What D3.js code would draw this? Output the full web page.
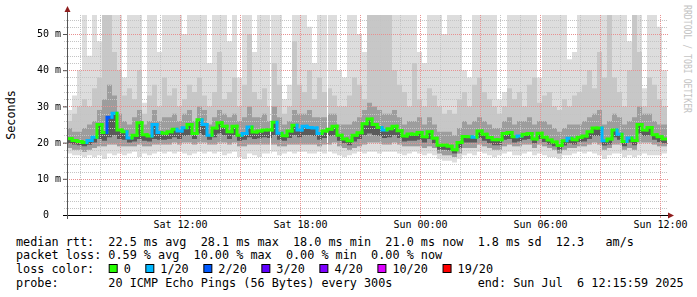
<!DOCTYPE html>
<html>
<head>
<meta charset="utf-8">
<script src="https://cdn.jsdelivr.net/npm/d3@7"></script>
<style>
  body { margin: 0; background: #fff; }
  svg text { font-family: "DejaVu Sans Mono", monospace; white-space: pre; }
  .lbl { position: absolute; left: 0; top: 0; will-change: transform; }
</style>
</head>
<body>
<svg id="chart" style="position:absolute;left:0;top:0"></svg>
<script>
// Data (one value per 15 min step)
const startTime = new Date(2025, 6, 5, 6, 21, 0);
const endTime = new Date(2025, 6, 6, 12, 21, 0);
const stepMinutes = 15;

const median = [
  21.1, 20.6, 20.3, 20.0, 20.6, 21.5, 25.0, 22.8, 27.0, 28.1,
  23.5, 23.0, 21.3, 22.0, 25.5, 22.2, 21.8, 25.0, 22.8, 22.6,
  23.0, 23.7, 23.2, 24.1, 25.0, 22.5, 26.3, 25.0, 22.0, 24.0,
  25.5, 24.5, 23.0, 24.5, 22.0, 22.5, 24.3, 22.9, 23.2, 23.5,
  23.5, 25.6, 22.6, 21.9, 23.2, 24.8, 23.5, 24.5, 24.2, 24.0,
  22.5, 23.2, 23.7, 24.5, 22.0, 21.0, 20.5, 22.0, 22.7, 25.2,
  26.5, 25.0, 24.2, 23.5, 23.8, 24.5, 23.3, 21.8, 22.4, 22.3,
  22.8, 21.6, 23.0, 21.2, 19.3, 19.3, 19.0, 18.0, 20.0, 21.7,
  21.6, 21.5, 23.2, 22.3, 21.4, 20.8, 20.8, 22.5, 22.8, 21.6,
  21.8, 22.3, 22.5, 21.0, 22.6, 21.5, 20.7, 20.2, 19.2, 20.5,
  21.2, 20.8, 21.5, 21.8, 23.0, 24.0, 24.0, 20.5, 21.0, 23.5,
  22.3, 20.3, 21.3, 20.6, 25.0, 23.5, 24.2, 22.2, 21.6, 21.0
];

// lost pings out of 20
const loss = [
  0, 0, 0, 0, 1, 1, 0, 0, 2, 1,
  0, 0, 1, 0, 0, 0, 0, 1, 1, 0,
  0, 0, 1, 1, 0, 0, 0, 1, 1, 0,
  0, 0, 0, 0, 0, 1, 1, 0, 0, 0,
  0, 0, 1, 0, 0, 0, 1, 1, 1, 1,
  1, 0, 0, 0, 0, 0, 0, 0, 0, 0,
  0, 0, 0, 1, 0, 0, 0, 0, 0, 0,
  0, 0, 0, 0, 0, 0, 0, 0, 0, 0,
  0, 1, 0, 0, 0, 0, 0, 0, 0, 0,
  1, 0, 0, 0, 0, 0, 0, 0, 0, 0,
  1, 0, 0, 0, 0, 0, 0, 1, 0, 0,
  1, 0, 1, 0, 0, 0, 0, 0, 0, 0
];

// smoke: slowest ping
const smokeTop = [
  29, 33, 40, 56, 44, 56, 48, 56, 56, 56,
  56, 38, 56, 56, 56, 31, 56, 56, 45, 56,
  56, 56, 56, 50, 56, 56, 56, 56, 42, 56,
  56, 56, 48, 56, 38, 56, 56, 45, 56, 56,
  56, 56, 56, 32, 36, 56, 56, 56, 52, 42,
  56, 56, 56, 56, 40, 38, 56, 56, 50, 45,
  56, 56, 56, 56, 56, 56, 56, 56, 56, 56,
  45, 42, 56, 56, 56, 50, 56, 56, 56, 40,
  38, 56, 56, 56, 56, 56, 32, 34, 56, 56,
  56, 56, 56, 56, 38, 56, 56, 56, 56, 56,
  43, 45, 56, 56, 56, 56, 56, 56, 56, 56,
  56, 56, 48, 56, 56, 35, 56, 56, 52, 40
];

// smoke: top of the mid grey band
const smokeUpper = [
  26, 28, 30, 32, 30, 35, 38, 56, 56, 45,
  40, 33, 35, 32, 40, 28, 33, 36, 30, 38,
  33, 35, 30, 32, 36, 34, 38, 33, 30, 34,
  45, 32, 34, 38, 30, 36, 50, 34, 32, 35,
  30, 42, 36, 28, 30, 48, 36, 34, 40, 32,
  38, 34, 35, 33, 30, 30, 33, 38, 36, 32,
  56, 56, 56, 56, 56, 40, 36, 34, 30, 42,
  32, 30, 35, 33, 30, 28, 29, 28, 32, 34,
  30, 36, 38, 34, 32, 30, 28, 30, 35, 32,
  34, 30, 36, 38, 31, 33, 34, 30, 29, 32,
  30, 33, 34, 36, 40, 35, 45, 38, 56, 38,
  34, 30, 40, 56, 45, 30, 38, 36, 32, 30
];

// smoke: top of the dark band
const smokeInner = [
  24, 23, 23, 24, 25, 26, 29, 32, 36, 33,
  28, 26, 25, 27, 29, 25, 26, 29, 26, 27,
  27, 28, 26, 28, 29, 26, 30, 29, 25, 27,
  29, 28, 27, 28, 26, 27, 30, 27, 27, 28,
  26, 30, 27, 25, 26, 29, 28, 28, 29, 27,
  27, 27, 28, 28, 25, 25, 25, 26, 27, 29,
  31, 30, 29, 28, 28, 29, 27, 25, 26, 26,
  27, 25, 27, 25, 23, 23, 23, 22, 24, 26,
  25, 26, 27, 26, 25, 24, 24, 26, 27, 25,
  26, 26, 27, 25, 26, 26, 25, 24, 23, 24,
  25, 25, 25, 26, 27, 28, 29, 25, 26, 28,
  27, 25, 26, 27, 30, 28, 28, 26, 25, 25
];

// smoke: bottom of the darkest band (just under the median)
const smokeCore = [
  19.8, 19.5, 19.3, 19.0, 19.4, 20.0, 21.0, 20.5, 21.5, 22.0,
  21.0, 20.8, 20.0, 20.3, 21.0, 20.5, 20.3, 21.0, 20.8, 20.8,
  21.0, 21.5, 21.0, 21.8, 22.0, 21.0, 22.5, 22.0, 20.8, 21.5,
  22.5, 22.0, 21.0, 22.0, 20.5, 20.8, 21.5, 21.0, 21.2, 21.5,
  21.3, 22.0, 20.8, 20.5, 21.3, 22.0, 21.5, 22.0, 22.0, 21.8,
  20.8, 21.3, 21.8, 22.0, 20.5, 19.8, 19.3, 20.3, 21.0, 22.0,
  22.5, 22.0, 21.8, 21.3, 21.5, 22.0, 21.3, 20.3, 20.5, 20.5,
  20.8, 20.0, 21.0, 19.8, 18.0, 18.0, 17.8, 17.0, 18.5, 20.0,
  20.0, 20.0, 21.3, 20.5, 19.8, 19.3, 19.3, 20.8, 21.0, 20.0,
  20.3, 20.8, 21.0, 19.8, 21.0, 20.2, 19.5, 19.0, 18.0, 19.2,
  19.8, 19.5, 20.2, 20.3, 21.0, 21.8, 21.8, 19.2, 19.5, 21.5,
  20.8, 19.0, 20.0, 19.3, 22.5, 21.8, 22.0, 20.8, 20.2, 19.8
];

// smoke: bottom of the dark / mid bands
const smokeLower = [
  18.5, 18, 18, 17.5, 18, 18.5, 19, 19, 19.5, 19.5,
  19, 19, 19, 19, 19.5, 19, 19, 19.5, 19.5, 19.5,
  19.5, 20, 19.5, 20, 20, 19.5, 20, 20, 19.5, 19.5,
  20, 20, 19.5, 20, 19, 19, 19.5, 19.5, 19.5, 19.5,
  19.5, 19.5, 19, 19, 19.5, 19.5, 19.5, 19.5, 19.5, 19.5,
  19, 19.5, 19.5, 20, 19, 18.5, 18, 18.5, 19, 19.5,
  20, 20, 20, 19.5, 19.5, 20, 19.5, 19, 19, 19,
  19, 18.5, 19, 18.5, 17, 16.5, 16.5, 16, 17, 18.5,
  18.5, 18.5, 19.5, 19, 18.5, 18, 18, 19, 19.5, 19,
  19, 19.5, 19.5, 18.5, 19.5, 19, 18.5, 18, 17, 18,
  18.5, 18.5, 19, 19, 19.5, 20, 19.5, 18, 18.5, 19.5,
  19.5, 18, 18.5, 18, 20, 20, 20, 19.5, 19, 19
];

// smoke: fastest ping
const smokeBottom = [
  17, 16.5, 16.5, 16, 16.5, 16, 16.5, 15.5, 17, 16.5,
  17, 16.5, 17, 17.5, 16, 17, 16.5, 17, 17.5, 17,
  17.5, 17, 17.5, 17, 16.5, 17, 17.5, 17, 17.5, 17,
  17.5, 16.5, 17, 17.5, 16, 15.5, 17, 16.5, 16, 17,
  17, 17.5, 16.5, 17, 17.5, 17, 17.5, 17.5, 17, 17,
  17.5, 17, 17.5, 17, 16.5, 16, 16.5, 17, 17.5, 17,
  17.5, 17.5, 17, 17.5, 17.5, 17.5, 17, 16.5, 17, 17.5,
  17, 16.5, 17, 16.5, 15.5, 15, 15, 14.5, 15.5, 16.5,
  17, 16.5, 17.5, 17, 16.5, 16, 16.5, 17, 17.5, 16.5,
  16.5, 17, 17.5, 16.5, 17, 16.5, 16, 16, 15.5, 16.5,
  16.5, 17, 17.5, 17, 17.5, 17, 16.5, 15.5, 16.5, 17,
  17, 16, 16.5, 16, 16.5, 17, 16.5, 16.5, 16.5, 17
];

// missing samples
const gaps = [new Date(2025, 6, 5, 16, 30), new Date(2025, 6, 5, 19, 21)];

const yTicks = [0, 10, 20, 30, 40, 50];
const lossLabels = ["0", "1/20", "2/20", "3/20", "4/20", "10/20", "19/20"];
const lossColors = ["#26ff00", "#00b8ff", "#0059ff", "#5e00ff", "#7e00ff", "#dd00ff", "#ff0000"];

const statLines = [
  "median rtt:  22.5 ms avg  28.1 ms max  18.0 ms min  21.0 ms now  1.8 ms sd  12.3   am/s",
  "packet loss: 0.59 % avg  10.00 % max  0.00 % min  0.00 % now",
  "loss color:",
  "probe:       20 ICMP Echo Pings (56 Bytes) every 300s            end: Sun Jul  6 12:15:59 2025"
];

// Chart Dimensions
const W = 697, H = 297;
const plot = { left: 67, right: 667, top: 15, bottom: 215 };

const svg = d3.select("#chart").attr("width", W).attr("height", H);
svg.append("rect").attr("width", W).attr("height", H).attr("fill", "#fff");

// Scales
const x = d3.scaleTime().domain([startTime, endTime]).range([plot.left, plot.right]);
const y = d3.scaleLinear().domain([0, 55.25]).range([plot.bottom, plot.top]);

const rows = median.map((m, i) => ({
  t: d3.timeMinute.offset(startTime, i * stepMinutes),
  med: m, loss: loss[i],
  top: smokeTop[i], upper: smokeUpper[i], inner: smokeInner[i],
  core: smokeCore[i], lower: smokeLower[i], bottom: smokeBottom[i]
}));
const stepRows = rows.concat([{ ...rows[rows.length - 1], t: endTime }]);

svg.append("clipPath").attr("id", "plotclip")
  .append("rect")
  .attr("x", plot.left).attr("y", plot.top)
  .attr("width", plot.right - plot.left).attr("height", plot.bottom - plot.top);

const g = svg.append("g").attr("clip-path", "url(#plotclip)");

// Smoke bands
const band = (lo, hi) => d3.area()
  .x((d) => x(d.t)).y0((d) => y(d[lo])).y1((d) => y(d[hi]))
  .curve(d3.curveStepAfter);

[
  ["bottom", "top", "#dddddd"],
  ["lower", "upper", "#c7c7c7"],
  ["lower", "inner", "#9d9d9d"],
  ["core", "med", "#5a5a5a"]
].forEach(([lo, hi, c]) => {
  g.append("path").datum(stepRows).attr("d", band(lo, hi)).attr("fill", c);
});

g.selectAll(".gap").data(gaps).enter().append("rect")
  .attr("x", (d) => Math.round(x(d))).attr("y", plot.top)
  .attr("width", 1).attr("height", plot.bottom - plot.top)
  .attr("fill", "#fff");

// Grid
const minorY = d3.range(2, 56, 2).filter((v) => v % 10 !== 0);
const majorY = yTicks.filter((v) => v > 0);
const hours = d3.timeHour.range(d3.timeHour.ceil(startTime), endTime);
const minorX = hours.filter((h) => h.getHours() % 3 !== 0);
const majorX = hours.filter((h) => h.getHours() % 3 === 0);

const grid = svg.append("g");
grid.selectAll(".mx").data(minorX).enter().append("line")
  .attr("x1", (d) => Math.round(x(d)) + 0.5).attr("x2", (d) => Math.round(x(d)) + 0.5)
  .attr("y1", plot.top).attr("y2", plot.bottom)
  .attr("stroke", "#c4c4c4").attr("stroke-dasharray", "1,1");
grid.selectAll(".my").data(minorY).enter().append("line")
  .attr("x1", plot.left - 3).attr("x2", plot.right + 1)
  .attr("y1", (d) => Math.round(y(d)) + 0.5).attr("y2", (d) => Math.round(y(d)) + 0.5)
  .attr("stroke", "#c4c4c4").attr("stroke-dasharray", "1,1");
grid.selectAll(".Mx").data(majorX).enter().append("line")
  .attr("x1", (d) => Math.round(x(d)) + 0.5).attr("x2", (d) => Math.round(x(d)) + 0.5)
  .attr("y1", plot.top).attr("y2", plot.bottom + 3)
  .attr("stroke", "#e89090").attr("stroke-dasharray", "1,1");
grid.selectAll(".My").data(majorY).enter().append("line")
  .attr("x1", plot.left - 4).attr("x2", plot.right + 1)
  .attr("y1", (d) => Math.round(y(d)) + 0.5).attr("y2", (d) => Math.round(y(d)) + 0.5)
  .attr("stroke", "#e89090").attr("stroke-dasharray", "1,1");

// Median line, coloured by loss
const ml = svg.append("g").attr("clip-path", "url(#plotclip)");
rows.forEach((d, i) => {
  const x0 = x(d.t), x1 = x(stepRows[i + 1].t);
  const yPrev = i > 0 ? y(rows[i - 1].med) : y(d.med);
  ml.append("path")
    .attr("d", `M${x0},${yPrev}V${y(d.med)}H${x1}`)
    .attr("fill", "none")
    .attr("stroke", lossColors[d.loss])
    .attr("stroke-width", 3)
    .attr("stroke-linecap", "square");
});

// Y tick marks (labels go on their own layer below)
const yTickMarks = d3.axisLeft(y).tickValues(yTicks).tickFormat("").tickSize(4);
const ym = svg.append("g").attr("transform", `translate(${plot.left},0)`).call(yTickMarks);
ym.select(".domain").remove();
ym.selectAll("line").attr("stroke", "#555");

const xAxis = d3.axisBottom(x).ticks(d3.timeHour.every(6))
  .tickFormat(d3.timeFormat("%a %H:%M")).tickSize(3).tickPadding(3);
const xa = svg.append("g").attr("transform", `translate(0,${plot.bottom})`).call(xAxis);
xa.select(".domain").remove();
xa.selectAll("line").attr("stroke", "#e89090");
xa.selectAll("text").attr("font-size", 10).attr("fill", "#000")
  .attr("font-family", "DejaVu Sans Mono");

// Axis lines and arrows
svg.append("line").attr("x1", plot.left - 4).attr("x2", plot.right + 3)
  .attr("y1", plot.bottom + 0.5).attr("y2", plot.bottom + 0.5).attr("stroke", "#000");
svg.append("line").attr("x1", plot.left + 0.5).attr("x2", plot.left + 0.5)
  .attr("y1", plot.bottom + 4).attr("y2", plot.top - 4).attr("stroke", "#555");
svg.append("path")
  .attr("d", `M${plot.right + 1},${plot.bottom - 2.5}L${plot.right + 7},${plot.bottom + 0.5}L${plot.right + 1},${plot.bottom + 3.5}Z`)
  .attr("fill", "#8f1d1d");
svg.append("path")
  .attr("d", `M${plot.left - 2.5},${plot.top - 3}L${plot.left + 0.5},${plot.top - 9}L${plot.left + 3.5},${plot.top - 3}Z`)
  .attr("fill", "#8f1d1d");

// Titles
svg.append("text")
  .attr("transform", `translate(15,${(plot.top + plot.bottom) / 2}) rotate(-90)`)
  .attr("text-anchor", "middle").attr("font-size", 11.8).attr("fill", "#000")
  .text("Seconds");

svg.append("text")
  .attr("transform", "translate(684,5) rotate(90)")
  .attr("font-size", 11).attr("fill", "#c4c4c4")
  .attr("textLength", 108).attr("lengthAdjust", "spacingAndGlyphs")
  .text("RRDTOOL / TOBI OETIKER");

// Legend
const charW = 7.13;
const legend = svg.append("g").attr("font-size", 11.8).attr("fill", "#000");
statLines.forEach((s, k) => {
  legend.append("text").attr("x", 16).attr("y", 245.8 + k * 13.6).text(s);
});

let cursor = 16 + 13 * charW;
lossLabels.forEach((lab, k) => {
  legend.append("rect")
    .attr("x", cursor + 0.5).attr("y", 264.5)
    .attr("width", 8).attr("height", 8)
    .attr("fill", lossColors[k]).attr("stroke", "#000");
  legend.append("text")
    .attr("x", cursor + 15).attr("y", 245.8 + 2 * 13.6).text(lab);
  cursor += 15 + lab.length * charW + 14.5;
});

// Y labels on a separate small layer (grey-scale text antialiasing)
const lbl = d3.select("body").append("svg").attr("class", "lbl")
  .attr("width", plot.left).attr("height", plot.bottom + 10);
lbl.selectAll("text").data(yTicks).enter().append("text")
  .attr("x", plot.left - 6).attr("y", (d) => y(d)).attr("dy", "0.32em")
  .attr("text-anchor", "end").attr("font-size", 10).attr("fill", "#000")
  .text((d) => (d === 0 ? "0  " : d + " m"));
</script>
</body>
</html>
